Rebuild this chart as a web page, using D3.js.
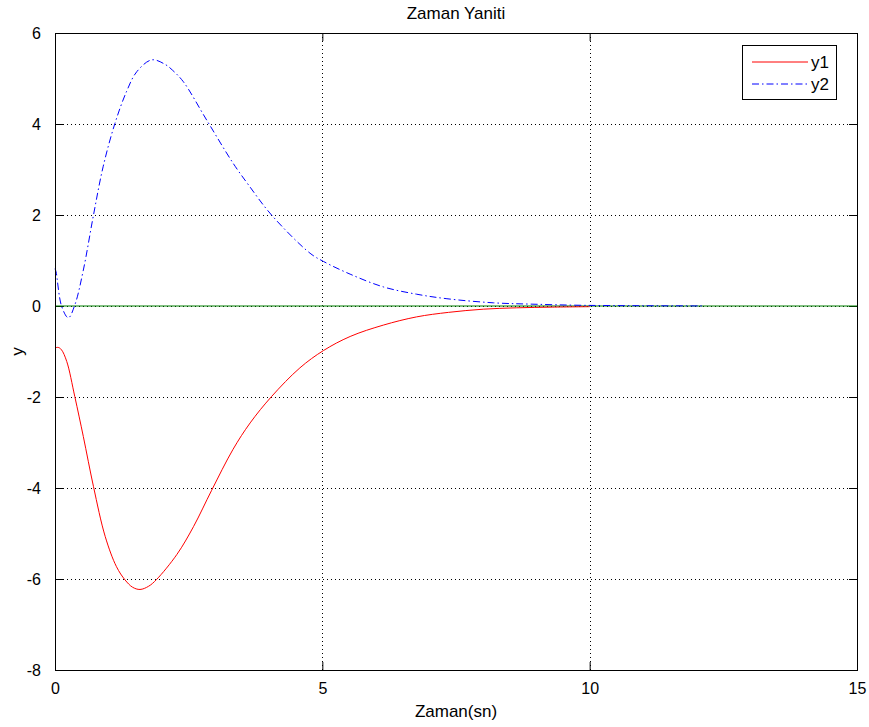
<!DOCTYPE html>
<html>
<head>
<meta charset="utf-8">
<script src="https://cdn.jsdelivr.net/npm/d3@7"></script>
<style>
  html, body { margin: 0; padding: 0; background: #fff; }
  svg { display: block; font-family: "Liberation Sans", Arial, Helvetica, sans-serif; }
</style>
</head>
<body>
<svg id="chart" width="869" height="727"></svg>
<script>
// Time samples (s) and responses
const timeY1 = [0, 0.06, 0.12, 0.22, 0.37, 0.53, 0.72, 0.94, 1.15, 1.31, 1.45, 1.59, 1.75, 1.90, 2.28, 2.59, 2.93, 3.33, 3.65, 4.05, 4.58, 5.02, 5.52, 6.14, 6.76, 7.36, 8.01, 8.63, 9.3, 10.0];
const y1 = [-0.92, -0.91, -0.96, -1.22, -1.99, -2.87, -3.97, -5.07, -5.73, -6.02, -6.18, -6.23, -6.16, -6.01, -5.46, -4.85, -4.05, -3.15, -2.57, -1.99, -1.36, -0.98, -0.67, -0.42, -0.24, -0.14, -0.07, -0.04, -0.025, -0.015];

const timeY2 = [0, 0.02, 0.125, 0.25, 0.37, 0.53, 0.72, 0.90, 1.12, 1.34, 1.53, 1.81, 2.06, 2.20, 2.40, 2.84, 3.33, 3.62, 4.05, 4.77, 5.02, 5.52, 6.14, 6.76, 7.33, 8.2, 8.94, 9.88, 11.0, 12.1];
const y2 = [0.82, 0.75, -0.01, -0.26, 0.02, 0.79, 2.0, 3.06, 4.01, 4.72, 5.15, 5.41, 5.31, 5.18, 4.93, 4.08, 3.14, 2.66, 2.0, 1.16, 0.98, 0.70, 0.42, 0.26, 0.16, 0.07, 0.04, 0.015, 0.006, 0.002];

// Zero reference line
const timeRef = [0, 15];
const yRef = [0, 0];

const xTicks = [0, 5, 10, 15];
const yTicks = [-8, -6, -4, -2, 0, 2, 4, 6];

const titleText = "Zaman Yaniti";
const xLabelText = "Zaman(sn)";
const yLabelText = "y";
const legendNames = ["y1", "y2"];

const svg = d3.select("#chart");
const plotLeft = 55, plotRight = 857, plotTop = 33, plotBottom = 670;

const x = d3.scaleLinear().domain([0, 15]).range([plotLeft, plotRight]);
const y = d3.scaleLinear().domain([-8, 6]).range([plotBottom, plotTop]);
const tickFmt = d => String(d);

// Grid (dotted) at interior ticks
const grid = svg.append("g").attr("stroke", "#000").attr("stroke-width", 1)
  .attr("stroke-dasharray", "1,3").attr("shape-rendering", "crispEdges");
grid.selectAll("line.gx").data(xTicks.filter(d => d > 0 && d < 15)).join("line")
  .attr("x1", d => Math.round(x(d)) + 0.5).attr("x2", d => Math.round(x(d)) + 0.5)
  .attr("y1", plotTop).attr("y2", plotBottom);
grid.selectAll("line.gy").data(yTicks.filter(d => d > -8 && d < 6)).join("line")
  .attr("y1", d => Math.round(y(d)) + 0.5).attr("y2", d => Math.round(y(d)) + 0.5)
  .attr("x1", plotLeft).attr("x2", plotRight);

// Axes with inward ticks on all four sides
const tickLen = 8;
const axisStyle = g => {
  g.select(".domain").remove();
  g.selectAll("text").attr("font-size", 16).attr("fill", "#000")
    .attr("font-family", "Liberation Sans, Arial, sans-serif");
  g.selectAll("line").attr("stroke", "#000");
};
svg.append("g").attr("transform", `translate(0,${plotBottom})`)
  .call(d3.axisBottom(x).tickValues(xTicks).tickSizeInner(-tickLen).tickSizeOuter(0).tickPadding(5 + tickLen).tickFormat(tickFmt))
  .call(axisStyle);
svg.append("g").attr("transform", `translate(${plotLeft},0)`)
  .call(d3.axisLeft(y).tickValues(yTicks).tickSizeInner(-tickLen).tickSizeOuter(0).tickPadding(6 + tickLen).tickFormat(tickFmt))
  .call(axisStyle);
svg.append("g").attr("transform", `translate(0,${plotTop})`)
  .call(d3.axisTop(x).tickValues(xTicks).tickSizeInner(-tickLen).tickSizeOuter(0).tickFormat(""))
  .call(axisStyle);
svg.append("g").attr("transform", `translate(${plotRight},0)`)
  .call(d3.axisRight(y).tickValues(yTicks).tickSizeInner(-tickLen).tickSizeOuter(0).tickFormat(""))
  .call(axisStyle);

// Data lines
const line = d3.line().x(d => x(d[0])).y(d => y(d[1])).curve(d3.curveCatmullRom.alpha(0.5));
const plotG = svg.append("g").attr("fill", "none");
plotG.append("path").datum(d3.zip(timeRef, yRef)).attr("d", line)
  .attr("stroke", "#008000").attr("stroke-width", 1.2);
plotG.append("path").datum(d3.zip(timeY1, y1)).attr("d", line)
  .attr("stroke", "#ff0000").attr("stroke-width", 1);
plotG.append("path").datum(d3.zip(timeY2, y2)).attr("d", line)
  .attr("stroke", "#0000ff").attr("stroke-width", 1).attr("stroke-dasharray", "7,3,1.5,3");

// Plot box
svg.append("rect").attr("x", plotLeft + 0.5).attr("y", plotTop + 0.5)
  .attr("width", plotRight - plotLeft).attr("height", plotBottom - plotTop)
  .attr("fill", "none").attr("stroke", "#000").attr("stroke-width", 1);

// Title and axis labels
svg.append("text").attr("x", (plotLeft + plotRight) / 2).attr("y", 19)
  .attr("text-anchor", "middle").attr("font-size", 17).text(titleText);
svg.append("text").attr("x", (plotLeft + plotRight) / 2).attr("y", 717)
  .attr("text-anchor", "middle").attr("font-size", 17).text(xLabelText);
svg.append("text").attr("transform", `translate(23,${(plotTop + plotBottom) / 2}) rotate(-90)`)
  .attr("text-anchor", "middle").attr("font-size", 17).text(yLabelText);

// Legend
const lg = svg.append("g");
lg.append("rect").attr("x", 742.5).attr("y", 45.5).attr("width", 94).attr("height", 54)
  .attr("fill", "#fff").attr("stroke", "#000");
const legendStyles = [
  { color: "#ff0000", dash: null },
  { color: "#0000ff", dash: "7,3,1.5,3" }
];
legendNames.forEach((name, i) => {
  const ly = 62 + i * 22;
  lg.append("line").attr("x1", 752).attr("x2", 808).attr("y1", ly).attr("y2", ly)
    .attr("stroke", legendStyles[i].color).attr("stroke-width", 1)
    .attr("stroke-dasharray", legendStyles[i].dash);
  lg.append("text").attr("x", 811).attr("y", ly + 6).attr("font-size", 17).text(name);
});
</script>
</body>
</html>
